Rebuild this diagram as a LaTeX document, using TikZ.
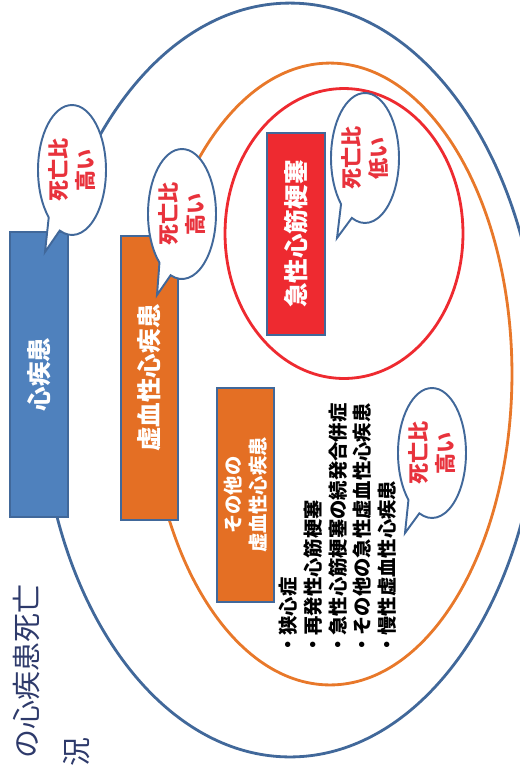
\documentclass[tikz,border=0pt]{standalone}
\usepackage{fontspec}
\setmainfont{Noto Sans CJK JP}
\usetikzlibrary{shapes.geometric,shapes.callouts}

\definecolor{lineblue}{HTML}{41689A}
\definecolor{boxblue}{HTML}{4F81BD}
\definecolor{boxorange}{HTML}{E46F24}
\definecolor{lineorange}{HTML}{E8782A}
\definecolor{boxred}{HTML}{EE2A30}
\definecolor{textred}{HTML}{E8323C}
\definecolor{titleblue}{HTML}{2E3A6B}

\tikzset{
  group/.style={ellipse, draw, line width=1.6pt, inner sep=0pt},
  catbox/.style={draw=lineblue, line width=1.1pt, rotate=90, text=white,
    font=\bfseries\fontsize{14}{16}\selectfont, align=center, inner sep=0pt},
  bubble/.style={ellipse callout, draw=lineblue, line width=1.1pt, fill=white,
    minimum width=1.36cm, minimum height=2.6cm, inner sep=0pt, callout pointer arc=22},
  ratiotext/.style={rotate=90, align=center, inner sep=0pt, text=textred,
    font=\bfseries\fontsize{12}{15}\selectfont},
  kindlist/.style={rotate=90, align=left, inner sep=0pt,
    font=\bfseries\fontsize{11}{14}\selectfont},
  heading/.style={rotate=90, inner sep=0pt, text=titleblue,
    font=\fontsize{16.5}{20}\selectfont}
}

\begin{document}
\begin{tikzpicture}[x=0.02cm, y=-0.02cm]
    \useasboundingbox (0,0) rectangle (520,769);
    \clip (0,0) rectangle (520,769);

    % nested groups
    \node[group, lineblue, minimum width=10cm, minimum height=15.08cm] (heart) at (290,380) {};
    \node[group, lineorange, minimum width=7.28cm, minimum height=12.44cm] (ischemic) at (330,374) {};
    \node[group, boxred, minimum width=4.76cm, minimum height=5.8cm] (acute) at (344,233.5) {};

    % category boxes
    \node[catbox, fill=boxblue, minimum width=5.7cm, minimum height=1.16cm] (heartbox) at (39,374.5) {心疾患};
    \node[catbox, fill=boxorange, minimum width=5.68cm, minimum height=1.14cm] (ischemicbox) at (149.5,378) {虚血性心疾患};
    \node[catbox, fill=boxorange, minimum width=4.28cm, minimum height=1.14cm,
          font=\bfseries\fontsize{11}{14}\selectfont] (otherbox) at (245.5,495) {その他の\\虚血性心疾患};
    \node[catbox, fill=boxred, minimum width=4.04cm, minimum height=1.16cm] (acutebox) at (296,234) {急性心筋梗塞};

    % list of the other ischemic diseases
    \node[kindlist, anchor=north west] (kinds) at (279,655)
        {・狭心症\\・再発性心筋梗塞\\・急性心筋梗塞の続発合併症\\・その他の急性虚血性心疾患\\・慢性虚血性心疾患};

    % speech bubbles
    \coordinate (tip1) at (45,252);
    \coordinate (tip2) at (157,295);
    \coordinate (tip3) at (337,238);
    \coordinate (tip4) at (405,533);
    \node[bubble, callout absolute pointer={(tip1)}] (bubble1) at (72,170) {};
    \node[bubble, callout absolute pointer={(tip2)}] (bubble2) at (182,214) {};
    \node[bubble, callout absolute pointer={(tip3)}] (bubble3) at (365,158) {};
    \node[bubble, callout absolute pointer={(tip4)}] (bubble4) at (432,453) {};
    \node[ratiotext] (ratio1) at (bubble1) {死亡比\\高い};
    \node[ratiotext] (ratio2) at (bubble2) {死亡比\\高い};
    \node[ratiotext] (ratio3) at (bubble3) {死亡比\\低い};
    \node[ratiotext] (ratio4) at (bubble4) {死亡比\\高い};

    % title, cut off by the page
    \node[heading, anchor=north east] (title1) at (13,584) {の心疾患死亡};
    \node[heading] (title2) at (77,752) {況};
\end{tikzpicture}
\end{document}
